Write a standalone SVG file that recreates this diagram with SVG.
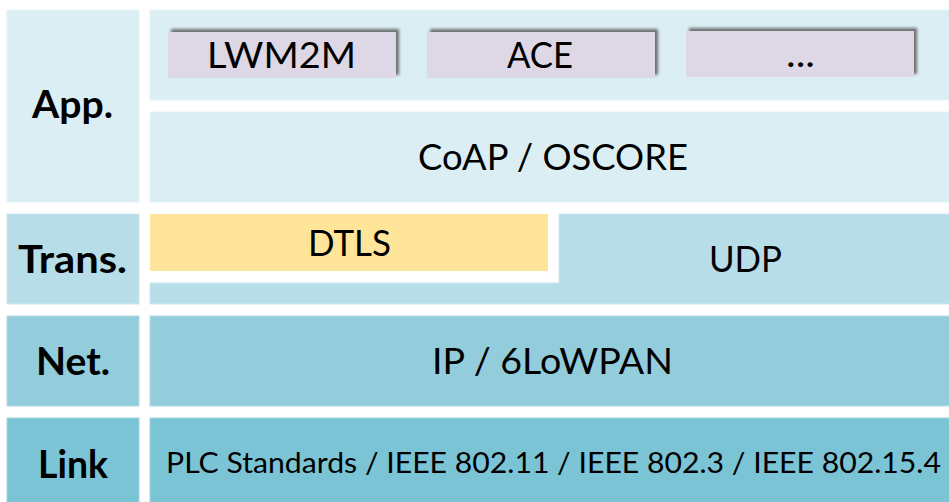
<svg xmlns="http://www.w3.org/2000/svg" width="949" height="502" viewBox="0 0 949 502">
  <defs>
    <filter id="shadow" x="-10%" y="-30%" width="120%" height="160%">
      <feGaussianBlur in="SourceAlpha" stdDeviation="1.8" result="b"/>
      <feOffset in="b" dx="3" dy="-3" result="o"/>
      <feFlood flood-color="#5a5a5a" flood-opacity="0.85"/>
      <feComposite in2="o" operator="in" result="s"/>
      <feMerge>
        <feMergeNode in="s"/>
        <feMergeNode in="SourceGraphic"/>
      </feMerge>
    </filter>
    <style>
      .app { fill: #DBEEF4; stroke: #E6F3F7; stroke-width: 1; }
      .trans { fill: #B7DEE8; stroke: #CDE8EF; stroke-width: 1; }
      .net { fill: #93CDDC; stroke: #B3DCE7; stroke-width: 1; }
      .link { fill: #7BC4D6; stroke: #A2D5E2; stroke-width: 1; }
      .dtls { fill: #FFE599; }
      .proto { fill: #DDD7E6; filter: url(#shadow); }
      text { font-family: Lato, "Open Sans", "Liberation Sans", sans-serif; fill: #000; text-anchor: middle; }
      .lbl { font-weight: bold; font-size: 39px; }
      .big { font-size: 37px; }
      .small { font-size: 28px; }
    </style>
  </defs>
  <rect width="949" height="502" fill="#FFFFFF"/>

  <g id="label-app">
    <rect class="app" x="7" y="10" width="132" height="192"/>
    <text class="lbl" x="72.5" y="118" textLength="81" lengthAdjust="spacingAndGlyphs">App.</text>
  </g>
  <g id="label-trans">
    <rect class="trans" x="7" y="214" width="132" height="90"/>
    <text class="lbl" x="72.5" y="273" textLength="109" lengthAdjust="spacingAndGlyphs">Trans.</text>
  </g>
  <g id="label-net">
    <rect class="net" x="7" y="316" width="132" height="90"/>
    <text class="lbl" x="73" y="375" textLength="74" lengthAdjust="spacingAndGlyphs">Net.</text>
  </g>
  <g id="label-link">
    <rect class="link" x="7" y="418" width="132" height="90"/>
    <text class="lbl" x="73" y="478" textLength="70" lengthAdjust="spacingAndGlyphs">Link</text>
  </g>

  <g id="app-protocols">
    <rect class="app" x="150" y="10" width="805" height="90"/>
  </g>
  <g id="lwm2m">
    <rect class="proto" x="168" y="32" width="228" height="46"/>
    <text class="big" x="281.5" y="68" font-size="35" textLength="149" lengthAdjust="spacingAndGlyphs">LWM2M</text>
  </g>
  <g id="ace">
    <rect class="proto" x="427" y="32" width="228" height="46"/>
    <text class="big" x="540" y="68" font-size="35" textLength="66" lengthAdjust="spacingAndGlyphs">ACE</text>
  </g>
  <g id="more">
    <rect class="proto" x="686" y="31" width="228" height="46"/>
    <text class="big" x="800.5" y="67" font-size="35" textLength="29" lengthAdjust="spacingAndGlyphs">...</text>
  </g>

  <g id="coap">
    <rect class="app" x="150" y="112" width="805" height="90"/>
    <text class="big" x="553" y="170" textLength="270" lengthAdjust="spacingAndGlyphs">CoAP / OSCORE</text>
  </g>

  <g id="udp">
    <path class="trans" d="M559,214 H955 V304 H150 V283 H559 Z"/>
    <text class="big" x="745.5" y="272" textLength="73" lengthAdjust="spacingAndGlyphs">UDP</text>
  </g>
  <g id="dtls">
    <rect class="dtls" x="150" y="214" width="398" height="57"/>
    <text class="big" x="349.5" y="256" font-size="36" textLength="83" lengthAdjust="spacingAndGlyphs">DTLS</text>
  </g>

  <g id="ip">
    <rect class="net" x="150" y="316" width="805" height="90"/>
    <text class="big" x="552.5" y="374" font-size="36" textLength="241" lengthAdjust="spacingAndGlyphs">IP / 6LoWPAN</text>
  </g>

  <g id="link-layer">
    <rect class="link" x="150" y="418" width="805" height="90"/>
    <text class="small" x="553.5" y="473" textLength="775" lengthAdjust="spacingAndGlyphs">PLC Standards / IEEE 802.11 / IEEE 802.3 / IEEE 802.15.4</text>
  </g>
</svg>
